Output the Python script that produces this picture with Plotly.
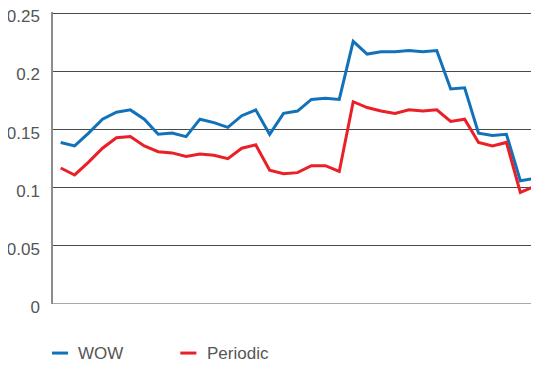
import plotly.graph_objects as go

x_index = list(range(35))
wow = [0.139, 0.136, 0.147, 0.159, 0.165, 0.167, 0.159, 0.146, 0.147, 0.144,
       0.159, 0.156, 0.152, 0.162, 0.167, 0.146, 0.164, 0.166, 0.176, 0.177,
       0.176, 0.226, 0.215, 0.217, 0.217, 0.218, 0.217, 0.218, 0.185, 0.186,
       0.147, 0.145, 0.146, 0.106, 0.108]
periodic = [0.117, 0.111, 0.122, 0.134, 0.143, 0.144, 0.136, 0.131, 0.130, 0.127,
            0.129, 0.128, 0.125, 0.134, 0.137, 0.115, 0.112, 0.113, 0.119, 0.119,
            0.114, 0.174, 0.169, 0.166, 0.164, 0.167, 0.166, 0.167, 0.157, 0.159,
            0.139, 0.136, 0.139, 0.096, 0.101]
series_names = ["WOW", "Periodic"]
series_colors = ["#1172ba", "#ea1f27"]
y_ticks = [0, 0.05, 0.1, 0.15, 0.2, 0.25]
y_tick_labels = ["0", "0.05", "0.1", "0.15", "0.2", "0.25"]

FONT = "Liberation Sans, Arial, sans-serif"
TEXT_COLOR = "#555555"

fig = go.Figure()
for name, vals, col in zip(series_names, [wow, periodic], series_colors):
    fig.add_trace(go.Scatter(x=x_index, y=vals, mode="lines", name=name,
                             line=dict(color=col, width=3), showlegend=False))

# manual legend (short line samples like the reference)
legend_x = [-0.002, 0.262]
for name, col, lx in zip(series_names, series_colors, legend_x):
    fig.add_shape(type="line", xref="paper", yref="paper",
                  x0=lx, x1=lx + 0.033, y0=-0.168, y1=-0.168,
                  line=dict(color=col, width=3))
    fig.add_annotation(xref="paper", yref="paper", x=lx + 0.050, y=-0.168,
                       text=name, showarrow=False, xanchor="left", yanchor="middle",
                       font=dict(family=FONT, size=17, color=TEXT_COLOR))

# the page body adds an 8px offset, so the figure is sized/margined to compensate
fig.update_layout(
    width=531, height=359,
    margin=dict(l=45, r=0, t=4, b=63, pad=0, autoexpand=False),
    paper_bgcolor="white", plot_bgcolor="white",
    font=dict(family=FONT, size=17, color=TEXT_COLOR),
    xaxis=dict(range=[-0.553, 34.34], showticklabels=False, showgrid=False,
               zeroline=False, showline=False, ticks="", automargin=False),
    yaxis=dict(range=[0, 0.2512], tickvals=y_ticks, ticktext=y_tick_labels,
               showgrid=True, gridcolor="#4a4a4a", gridwidth=1,
               zeroline=False, showline=True, linecolor="#8c8c8c", linewidth=1.5,
               ticks="", ticklabelstandoff=8, ticklabelshift=3, automargin=False,
               ticklabeloverflow="allow"),
)
# bottom axis line
fig.add_shape(type="line", xref="paper", yref="y", x0=0, x1=1, y0=0, y1=0,
              line=dict(color="#8c8c8c", width=1.5), layer="above")

fig.write_html("out.html")
